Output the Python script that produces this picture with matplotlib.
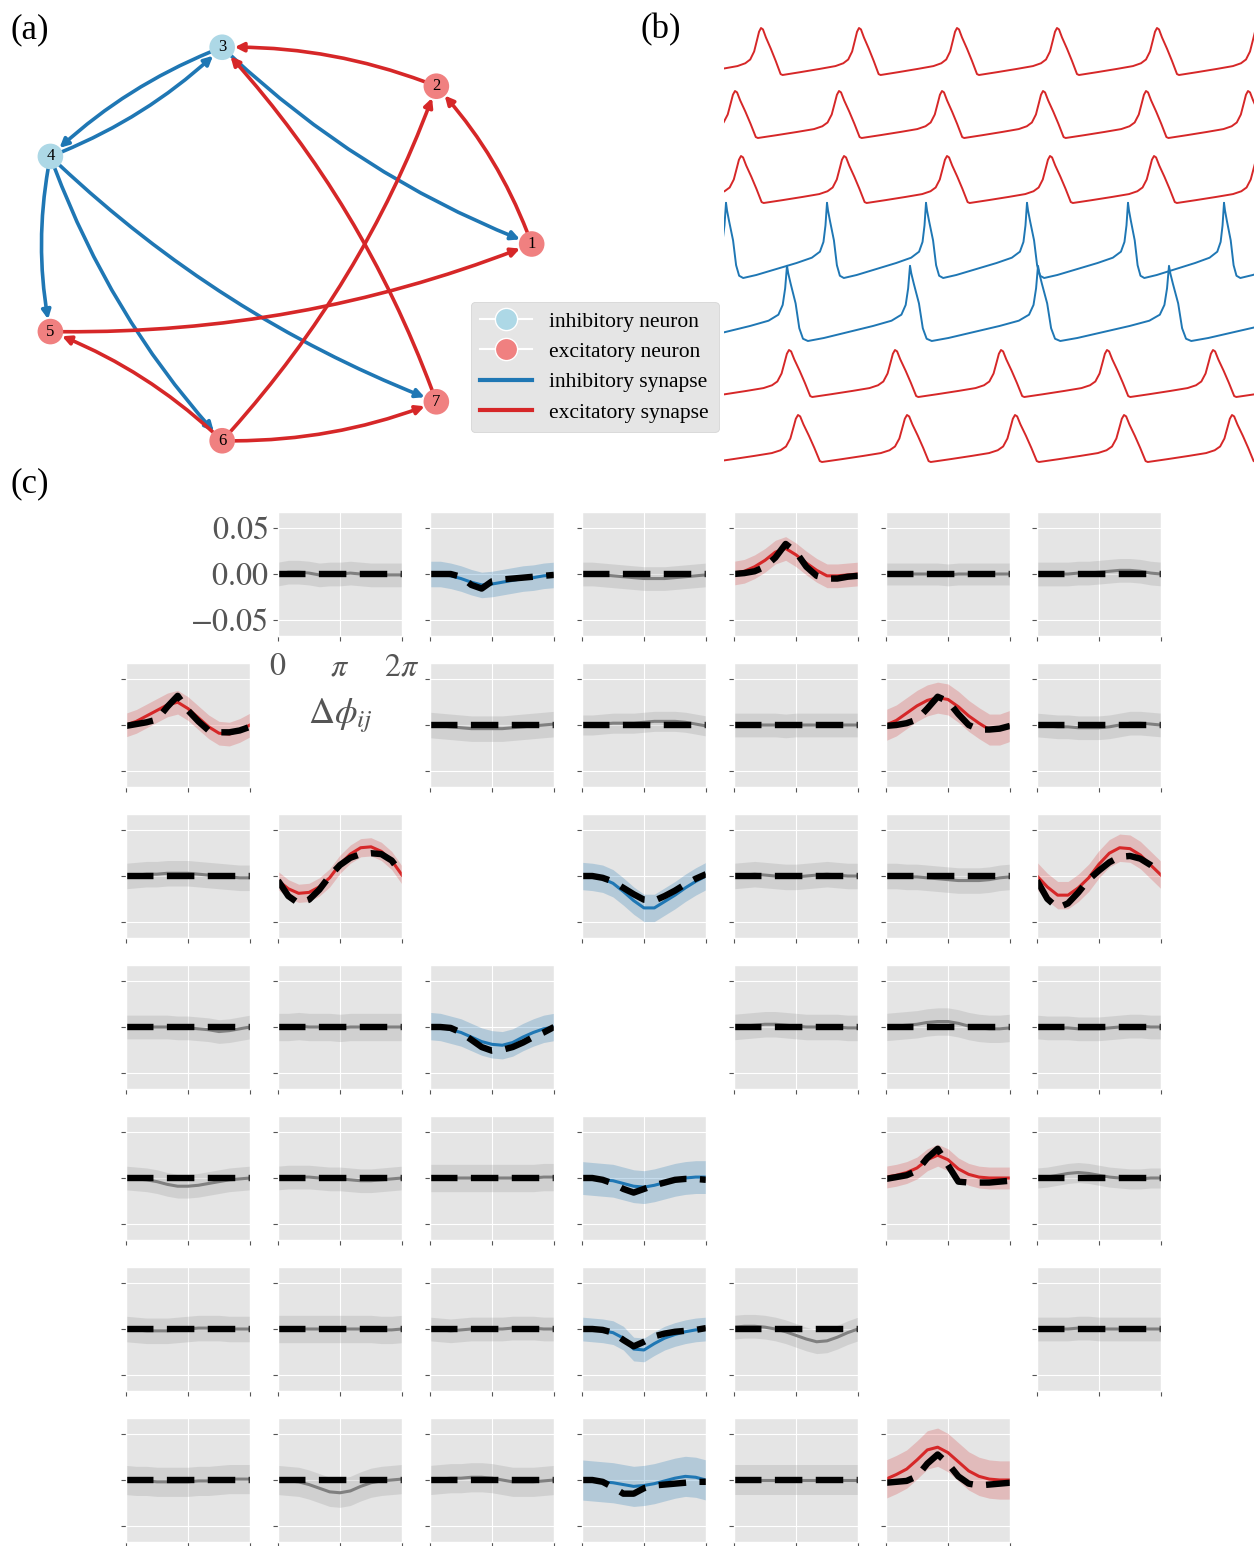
import numpy as np
import matplotlib
matplotlib.use('Agg')
import matplotlib.pyplot as plt
from matplotlib.patches import FancyArrowPatch
from matplotlib.lines import Line2D

plt.style.use('ggplot')
plt.rcParams['font.family'] = ['Liberation Serif', 'DejaVu Serif']
plt.rcParams['mathtext.fontset'] = 'stix'

RED = '#d62728'
BLUE = '#1f77b4'
GRAY = '#808080'

# ---------------- panel (a): network ----------------
nodes = [1, 2, 3, 4, 5, 6, 7]
inhibitory_nodes = [3, 4]
inh_edges = [(3, 4), (4, 3), (3, 1), (4, 5), (4, 6), (4, 7)]
exc_edges = [(2, 3), (1, 2), (7, 3), (6, 2), (5, 1), (6, 5), (6, 7)]

# ---------------- panel (b): voltage traces ----------------
# peak times of each neuron (same time units as the x axis, 0..530)
spike_times = [
    [37, 135, 233, 333, 433],
    [11, 115, 218, 319, 422, 524],
    [17, 120, 223, 326, 430],
    [2, 103, 202, 303, 404, 500],
    [63, 186, 314, 445],
    [65, 171, 277, 383, 489],
    [74, 183, 291, 400, 508],
]
trace_kind = ['exc', 'exc', 'exc', 'inh', 'inh', 'exc', 'exc']
# one period of the waveform, phase 0 = spike peak
exc_wave_phase = [0, 0.02, 0.05, 0.10, 0.15, 0.20, 0.22, 0.40, 0.60, 0.76, 0.84, 0.89, 0.93, 0.96, 0.98, 1.0]
exc_wave_value = [1.0, 0.97, 0.80, 0.56, 0.30, 0.02, 0.0, 0.06, 0.13, 0.19, 0.25, 0.33, 0.50, 0.75, 0.92, 1.0]
inh_wave_phase = [0, 0.01, 0.03, 0.07, 0.10, 0.13, 0.17, 0.30, 0.50, 0.70, 0.85, 0.93, 0.965, 0.985, 1.0]
inh_wave_value = [1.0, 0.90, 0.76, 0.50, 0.17, 0.03, 0.0, 0.04, 0.12, 0.20, 0.27, 0.35, 0.48, 0.70, 1.0]

# ---------------- panel (c): coupling functions ----------------
# kind of each pair: r = excitatory, b = inhibitory, g = none, . = diagonal
pair_kind = ['.gbgrgg',
             'r.gggrg',
             'gr.bggr',
             'ggb.ggg',
             'gggb.rg',
             'gggbg.g',
             'gggbgr.']
# estimated coupling (x1e-3) at phase 0, pi/6, ..., 2pi
fit_row0 = [None,
            [0, 2, 2, 1, -1, 0, 0, 1, 0, -1, -1, -1, -1],
            [0, 0, -2, -5, -9, -12, -11, -9, -7, -5, -4, -2, -1],
            [0, 0, -1, -2, -3, -4, -5, -5, -5, -4, -3, -2, -1],
            [1, 3, 8, 15, 24, 28, 21, 12, 4, -2, -2, -1, 0],
            [0, 0, 0, 0, 0, 0, -1, 0, 0, 0, 0, 0, 0],
            [0, 0, 0, 0, 1, 1, 2, 3, 4, 4, 3, 1, 0]]
fit_row1 = [[0, 4, 10, 16, 22, 25, 18, 8, -2, -9, -10, -6, 0],
            None,
            [0, -1, -2, -3, -4, -4, -4, -4, -3, -2, -1, 0, 1],
            [0, 0, 1, 2, 2, 2, 3, 4, 4, 4, 3, 1, -1],
            [0, 0, 0, 0, 0, -1, 0, 0, 0, 0, 0, 0, 0],
            [0, 5, 13, 21, 27, 30, 28, 20, 10, 2, -5, -5, -1],
            [0, -1, -2, -2, -3, -3, -3, -2, 0, 2, 2, 1, 0]]
fit_row2 = [[0, 1, 2, 2, 3, 3, 3, 2, 1, 0, -1, -2, -2],
            [-5, -14, -19, -18, -12, -2, 13, 24, 31, 32, 27, 17, 1],
            None,
            [0, -1, -3, -8, -17, -27, -35, -35, -28, -21, -13, -6, 0],
            [0, 1, 2, 1, 0, -1, -1, 0, 1, 2, 1, 0, 0],
            [0, 0, -1, -1, -2, -3, -4, -5, -5, -5, -4, -2, -1],
            [0, -12, -21, -21, -13, -2, 13, 25, 31, 30, 23, 12, 1]]
fit_row3 = [[0, 0, 0, 0, 0, -1, -1, -2, -3, -5, -4, -2, 0],
            [0, 0, 1, 0, 0, 0, -1, 0, 0, 0, 0, 0, 0],
            [1, 0, -3, -6, -11, -16, -19, -20, -17, -11, -6, -2, 0],
            None,
            [0, 1, 2, 3, 3, 2, 1, 0, 0, 0, 0, -1, -1],
            [0, 1, 2, 3, 5, 6, 6, 4, 1, -1, -2, -2, -1],
            [0, -1, -1, -1, -2, -2, -2, -1, 0, 1, 1, 0, 0]]
fit_row4 = [[0, -1, -2, -4, -7, -9, -9, -8, -6, -4, -2, -1, 0],
            [0, 1, 1, 1, 0, -1, -1, -2, -3, -3, -2, -1, 0],
            [0, 0, 0, 0, 0, 0, 0, 0, 0, 0, 0, 1, 1],
            [0, -1, -2, -3, -6, -9, -10, -8, -5, -2, 0, 1, 1],
            None,
            [1, 3, 6, 11, 20, 25, 20, 10, 4, 1, 0, 0, 0],
            [0, 1, 3, 5, 6, 5, 3, 1, 0, -1, -1, 0, 0]]
fit_row5 = [[0, -1, -2, -2, -2, -1, 0, 1, 1, 1, 0, 0, 0],
            [0, 0, 0, 0, 0, 0, 0, 0, 0, 0, -1, -1, 0],
            [0, -1, -2, -1, 0, 0, 0, 0, 1, 1, 1, 0, 0],
            [0, -1, -2, -4, -10, -22, -23, -16, -10, -6, -3, -1, 0],
            [2, 3, 3, 2, 0, -3, -7, -11, -14, -13, -9, -4, 0],
            None,
            [0, 0, 0, 0, 1, 1, 0, 0, 0, 0, 0, 0, 0]]
fit_row6 = [[0, -1, -1, -2, -2, -2, -2, -1, -1, 0, 1, 1, 1],
            [0, -1, -2, -5, -9, -13, -14, -12, -7, -3, -1, 0, 1],
            [0, 1, 2, 2, 3, 3, 2, 0, -2, -2, -2, -1, 0],
            [0, -1, -2, -3, -5, -7, -6, -4, -1, 2, 4, 3, 0],
            [0, 0, 0, 0, 0, 0, 0, 0, 0, 0, 0, 0, 0],
            [1, 6, 12, 22, 33, 36, 30, 20, 10, 4, 1, 0, 0],
            None]
fit_rows = [fit_row0, fit_row1, fit_row2, fit_row3, fit_row4, fit_row5, fit_row6]

# true coupling (x1e-3), zero where there is no synapse
true_curves = {
    (0, 2): [0, 0, 0, -3, -12, -16, -8, -6, -5, -4, -3, -2, -1],
    (0, 4): [0, 1, 3, 8, 18, 33, 24, 8, -2, -5, -5, -3, -2],
    (1, 0): [-1, 1, 3, 6, 20, 32, 16, 4, -6, -8, -8, -6, -2],
    (1, 5): [-1, 0, 2, 6, 18, 31, 26, 12, 0, -5, -5, -4, -1],
    (2, 1): [-5, -22, -30, -26, -15, 0, 12, 20, 24, 25, 24, 17, 2],
    (2, 3): [0, 0, -2, -6, -13, -20, -26, -27, -22, -16, -9, -3, 2],
    (2, 6): [-5, -25, -35, -30, -18, -4, 6, 15, 21, 22, 19, 12, 3],
    (3, 2): [0, 0, -1, -6, -14, -22, -26, -25, -22, -17, -11, -6, 0],
    (4, 3): [0, 0, -2, -6, -12, -16, -12, -8, -5, -2, -1, -1, -2],
    (4, 5): [-1, 1, 3, 8, 22, 32, 14, -4, -5, -5, -5, -4, -3],
    (5, 3): [0, 0, -1, -4, -12, -19, -14, -8, -5, -3, -2, -1, 1],
    (6, 3): [0, 0, -2, -8, -15, -15, -9, -6, -5, -4, -3, -2, -2],
    (6, 5): [-3, -2, -1, 4, 18, 28, 18, 4, -4, -6, -5, -4, -3],
}
# half width of the uncertainty band (x1e-3)
band_hw = [[0, 13, 14, 13, 13, 12, 13],
           [13, 0, 14, 11, 13, 17, 13],
           [14, 10, 0, 15, 14, 14, 15],
           [13, 15, 15, 0, 14, 15, 13],
           [13, 13, 15, 18, 0, 12, 11],
           [14, 15, 13, 13, 13, 0, 13],
           [16, 16, 16, 22, 16, 21, 0]]
phase_grid = np.linspace(0, 2 * np.pi, 13)

W, H = 1260, 1546
fig = plt.figure(figsize=(W / 100, H / 100), dpi=100)


def px_axes(left, top, width, height):
    return fig.add_axes([left / W, 1 - (top + height) / H, width / W, height / H])


# ---- (a)
ax_a = px_axes(0, 22, 557, 444)
ax_a.set_xlim(-1.1, 1.1)
ax_a.set_ylim(-1.1, 1.1)
ax_a.axis('off')
pos = {n: (np.cos(2 * np.pi * (n - 1) / 7), np.sin(2 * np.pi * (n - 1) / 7)) for n in nodes}
for edges, col in [(inh_edges, BLUE), (exc_edges, RED)]:
    for a, b in edges:
        arr = FancyArrowPatch(pos[a], pos[b], connectionstyle='arc3,rad=0.1',
                              arrowstyle='-|>', mutation_scale=13, lw=2.6,
                              color=col, shrinkA=9, shrinkB=9, zorder=1)
        ax_a.add_patch(arr)
for n in nodes:
    fc = 'lightblue' if n in inhibitory_nodes else 'lightcoral'
    ax_a.scatter(*pos[n], s=340, color=fc, zorder=3, edgecolors='none')
    ax_a.text(*pos[n], str(n), ha='center', va='center', fontsize=12, zorder=4)

handles = [Line2D([0], [0], marker='o', color='w', markerfacecolor='lightblue', markersize=16,
                  label='inhibitory neuron'),
           Line2D([0], [0], marker='o', color='w', markerfacecolor='lightcoral', markersize=16,
                  label='excitatory neuron'),
           Line2D([0], [0], color=BLUE, lw=3, label='inhibitory synapse'),
           Line2D([0], [0], color=RED, lw=3, label='excitatory synapse')]
fig.legend(handles=handles, loc='upper left', bbox_to_anchor=(460 / W, 1 - 291 / H),
           fontsize=15.5, facecolor='#E5E5E5', edgecolor='#D0D0D0', framealpha=1,
           handlelength=2.4, labelspacing=0.48, borderpad=0.45)

# ---- (b)
ax_b = px_axes(724, 15, 530, 455)
ax_b.set_xlim(0, 530)
ax_b.set_ylim(-470 / 47, -15 / 47)
ax_b.axis('off')
trace_bottom = [-75, -138, -203, -278, -341, -397, -462]
for i, times in enumerate(spike_times):
    if trace_kind[i] == 'exc':
        ph, val, amp, col = exc_wave_phase, exc_wave_value, 1.0, RED
    else:
        ph, val, amp, col = inh_wave_phase, inh_wave_value, 1.6, BLUE
    ph = np.array(ph)
    val = np.array(val)
    t = [times[0] - (times[1] - times[0])] + list(times) + [times[-1] + (times[-1] - times[-2])]
    xs, ys = [], []
    for a, b in zip(t[:-1], t[1:]):
        xs.extend(a + ph[:-1] * (b - a))
        ys.extend(val[:-1])
    xs.append(t[-1])
    ys.append(val[-1])
    ax_b.plot(xs, np.array(ys) * amp + trace_bottom[i] / 47, color=col, lw=1.4)

# ---- (c)
col_left = [126, 278, 430, 582, 734, 886, 1037]
row_top = [512, 663, 814, 965, 1116, 1267, 1418]
line_col = {'r': RED, 'b': BLUE, 'g': GRAY}
band_alpha = {'r': 0.22, 'b': 0.25, 'g': 0.2}
for i in range(7):
    for j in range(7):
        k = pair_kind[i][j]
        if k == '.':
            continue
        ax = px_axes(col_left[j], row_top[i], 124, 124)
        fit = np.array(fit_rows[i][j]) * 1e-3
        true = np.array(true_curves.get((i, j), [0] * 13)) * 1e-3
        hw = band_hw[i][j] * 1e-3
        ax.fill_between(phase_grid, fit - hw, fit + hw, color=line_col[k],
                        alpha=band_alpha[k], lw=0)
        ax.plot(phase_grid, fit, color=line_col[k], lw=2.2)
        ax.plot(phase_grid, true, color='black', lw=4.6, ls=(0, (4.3, 2.1)))
        ax.set_xlim(0, 2 * np.pi)
        ax.set_ylim(-0.068, 0.068)
        ax.set_xticks([0, np.pi, 2 * np.pi])
        ax.set_yticks([-0.05, 0, 0.05])
        if (i, j) == (0, 1):
            ax.set_xticklabels(['$0$', r'$\pi$', r'$2\pi$'], fontsize=23)
            ax.set_yticklabels([r'$-0.05$', '$0.00$', '$0.05$'], fontsize=23)
            ax.tick_params(axis='x', pad=9)
            ax.set_xlabel(r'$\Delta\phi_{ij}$', fontsize=26, labelpad=10)
        else:
            ax.tick_params(labelbottom=False, labelleft=False)

fig.text(10 / W, 1 - 30 / H, '(a)', fontsize=25, va='center', ha='left')
fig.text(640 / W, 1 - 30 / H, '(b)', fontsize=25, va='center', ha='left')
fig.text(10 / W, 1 - 484 / H, '(c)', fontsize=25, va='center', ha='left')

fig.savefig('out.png', dpi=100)
